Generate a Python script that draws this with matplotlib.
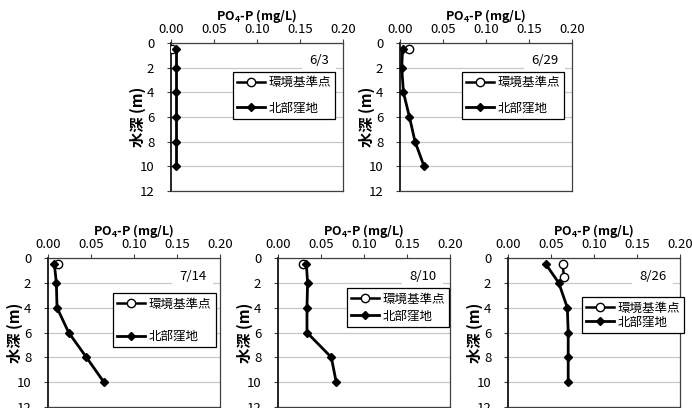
import matplotlib
matplotlib.use("Agg")
import matplotlib.pyplot as plt

plt.rcParams["font.family"] = ["Noto Sans CJK JP", "DejaVu Sans"]
plt.rcParams["mathtext.default"] = "regular"

depths = [0.5, 2, 4, 6, 8, 10]

dates = ["6/3", "6/29", "7/14", "8/10", "8/26"]

# 環境基準点 (open circles)
std_depths = [[0.5], [0.5], [0.5], [0.5], [0.5, 1.5]]
std_vals = [[0.001], [0.0105], [0.0113], [0.0286], [0.0635, 0.065]]

# 北部窪地 (diamonds)
north_vals = [
    [0.0055, 0.0055, 0.0055, 0.0055, 0.0055, 0.0055],
    [0.003, 0.002, 0.004, 0.011, 0.0175, 0.028],
    [0.0074, 0.0097, 0.0105, 0.024, 0.0447, 0.065],
    [0.033, 0.0344, 0.0337, 0.0337, 0.062, 0.0677],
    [0.044, 0.059, 0.069, 0.070, 0.070, 0.070],
]

W, H = 692, 408
# axes boxes in pixels: left, top, width, height
boxes = [(171, 43, 172, 148), (400, 43, 172, 148),
         (48, 258, 172, 149), (278, 258, 172, 149), (508, 258, 172, 149)]
leg_pos = [(0.36, 0.805), (0.36, 0.805), (0.378, 0.764), (0.40, 0.797), (0.43, 0.736)]
leg_space = [1.0, 1.0, 1.55, 0.3, 0.05]

fig = plt.figure(figsize=(W / 100, H / 100), dpi=100)

for i in range(5):
    l, t, w, h = boxes[i]
    ax = fig.add_axes([l / W, 1 - (t + h) / H, w / W, h / H])
    ax.set_xlim(0, 0.2)
    ax.set_ylim(12, 0)
    ax.set_xticks([0, 0.05, 0.1, 0.15, 0.2])
    ax.set_xticklabels(["0.00", "0.05", "0.10", "0.15", "0.20"])
    ax.set_yticks(range(0, 13, 2))
    ax.xaxis.tick_top()
    ax.xaxis.set_label_position("top")
    ax.tick_params(axis="both", labelsize=9.5, direction="out", length=3,
                   width=0.8, color="#404040")
    ax.tick_params(axis="x", pad=2)
    ax.tick_params(axis="y", pad=9)
    ax.yaxis.grid(True, color="#c8c8c8", linewidth=0.9)
    ax.set_axisbelow(True)
    for s in ["top", "right", "bottom"]:
        ax.spines[s].set_color("#404040")
        ax.spines[s].set_linewidth(0.9)
    ax.spines["left"].set_color("black")
    ax.spines["left"].set_linewidth(1.2)

    ax.set_xlabel("PO$_4$-P (mg/L)", fontsize=9, fontweight="bold", labelpad=2.5)
    ax.set_ylabel("水深 (m)", fontsize=11, fontweight="bold")
    ax.yaxis.set_label_coords(-0.145, 0.5)

    ax.plot(std_vals[i], std_depths[i], "-o", color="black", lw=1.8,
            markerfacecolor="white", markeredgecolor="black", markersize=6,
            markeredgewidth=1.0, label="環境基準点", zorder=3)
    ax.plot(north_vals[i], depths, "-D", color="black", lw=2.0,
            markersize=4.5, label="北部窪地", zorder=4)

    ax.text(0.184, 1.45, dates[i], ha="right", va="center", fontsize=9.5,
            bbox=dict(boxstyle="square,pad=0.55", facecolor="white", edgecolor="none"),
            zorder=2)

    leg = ax.legend(loc="upper left", bbox_to_anchor=leg_pos[i], borderaxespad=0,
                    fontsize=9, frameon=True, fancybox=False, edgecolor="black",
                    framealpha=1, labelspacing=leg_space[i], handlelength=2.2,
                    handletextpad=0.3, borderpad=0.35)
    leg.get_frame().set_linewidth(0.9)
    leg.set_zorder(5)

fig.savefig("out.png", dpi=100)
